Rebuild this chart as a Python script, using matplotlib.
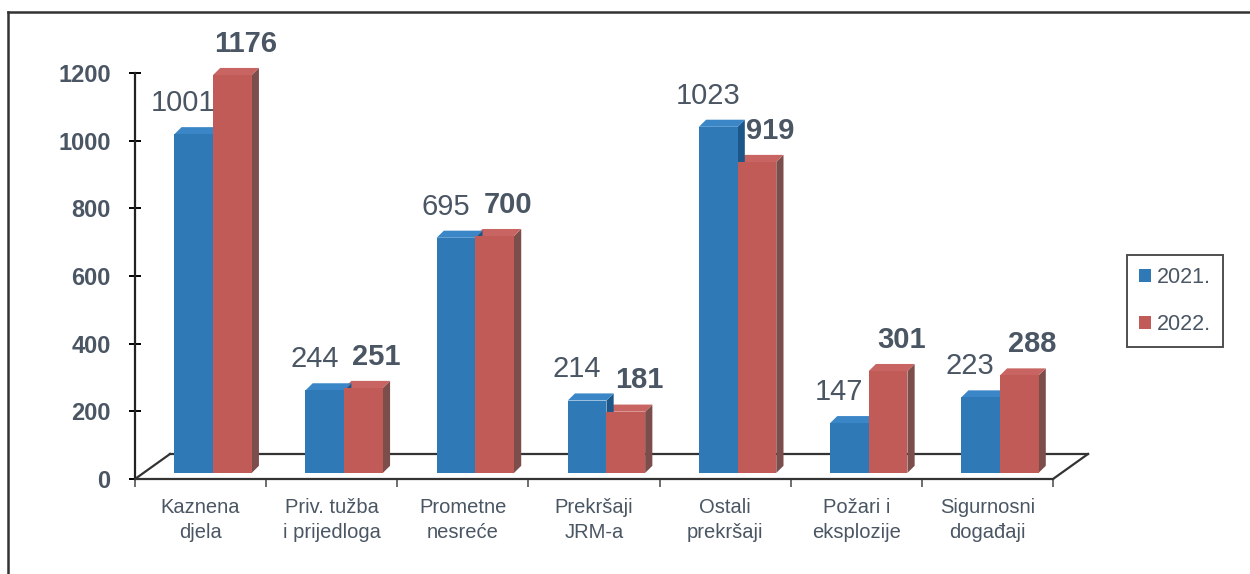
import numpy as np
import matplotlib.pyplot as plt
from matplotlib.patches import Polygon, Patch
from matplotlib.lines import Line2D

plt.rcParams['font.family'] = ['Liberation Sans', 'DejaVu Sans']

categories = ['Kaznena\ndjela', 'Priv. tužba\ni prijedloga', 'Prometne\nnesreće',
              'Prekršaji\nJRM-a', 'Ostali\nprekršaji', 'Požari i\neksplozije',
              'Sigurnosni\ndogađaji']
values_2021 = [1001, 244, 695, 214, 1023, 147, 223]
values_2022 = [1176, 251, 700, 181, 919, 301, 288]
series_labels = ['2021.', '2022.']

text_col = '#4a5663'
blue = '#2e79b6'
blue_side = '#1d5688'
blue_top = '#3a86c6'
red = '#c05b58'
red_side = '#7b4e4c'
red_top = '#c86462'

fig = plt.figure(figsize=(12.5, 5.74), dpi=100)
ax = fig.add_axes([0.108, 0.1655, 0.7344, 0.7073])
ax.set_xlim(0, 7)
ax.set_ylim(0, 1200)

# 3d-ish geometry (data units)
bw = 0.295          # bar width
x_start = 0.30      # offset of blue bar in category
base = 18           # bar bottom above front floor line
ddx, ddy = 0.055, 21    # bar depth
fdx, fdy = 0.267, 74    # floor depth

# floor outline
floor_kw = dict(color='#333333', lw=1.6, clip_on=False, zorder=1)
ax.plot([0, fdx], [0, fdy], **floor_kw)
ax.plot([fdx, 7 + fdx], [fdy, fdy], **floor_kw)
ax.plot([7 + fdx, 7], [fdy, 0], **floor_kw)


def bar3d(x0, v, front, side, top):
    x1 = x0 + bw
    y0, y1 = base, base + v
    ax.add_patch(Polygon([(x0, y0), (x1, y0), (x1, y1), (x0, y1)], closed=True,
                         facecolor=front, edgecolor='none', clip_on=False, zorder=3))
    ax.add_patch(Polygon([(x1, y0), (x1 + ddx, y0 + ddy), (x1 + ddx, y1 + ddy), (x1, y1)],
                         closed=True, facecolor=side, edgecolor='none', clip_on=False, zorder=2))
    ax.add_patch(Polygon([(x0, y1), (x0 + ddx, y1 + ddy), (x1 + ddx, y1 + ddy), (x1, y1)],
                         closed=True, facecolor=top, edgecolor='none', clip_on=False, zorder=2))


for i in range(len(categories)):
    xb = i + x_start
    xr = xb + bw
    bar3d(xr, values_2022[i], red, red_side, red_top)
    bar3d(xb, values_2021[i], blue, blue_side, blue_top)
    ax.text(xb + bw / 2 - 0.08, base + values_2021[i] + ddy + 30, str(values_2021[i]),
            ha='center', va='bottom', fontsize=21, color=text_col, zorder=5)
    ax.text(xr + bw / 2 + 0.1, base + values_2022[i] + ddy + 30, str(values_2022[i]),
            ha='center', va='bottom', fontsize=21, fontweight='bold', color=text_col, zorder=5)

for s in ['top', 'right']:
    ax.spines[s].set_visible(False)
ax.spines['left'].set_color('#222222')
ax.spines['left'].set_linewidth(1.6)
ax.spines['bottom'].set_color('#333333')
ax.spines['bottom'].set_linewidth(1.6)

ax.set_yticks(np.arange(0, 1201, 200))
ax.tick_params(axis='y', direction='inout', length=9, width=1.4, pad=13,
               labelsize=17, labelcolor=text_col)
for lbl in ax.get_yticklabels():
    lbl.set_fontweight('bold')

ax.set_xticks(np.arange(8))
ax.set_xticklabels([])
ax.tick_params(axis='x', which='major', direction='out', length=6, width=1.2, color='#555555')
ax.set_xticks(np.arange(7) + 0.5, minor=True)
ax.set_xticklabels(categories, minor=True, fontsize=14.5, color=text_col, linespacing=1.35)
ax.tick_params(axis='x', which='minor', length=0, pad=14)

handles = [Patch(facecolor=blue, edgecolor='none'), Patch(facecolor=red, edgecolor='none')]
leg = fig.legend(handles, series_labels, loc='upper left', bbox_to_anchor=(1127 / 1250, 1 - 255 / 574),
                 borderaxespad=0, fontsize=15.5, frameon=True, fancybox=False,
                 handlelength=0.55, handleheight=0.55, handletextpad=0.3,
                 borderpad=0.55, labelspacing=1.2)
leg.get_frame().set_edgecolor('#222222')
leg.get_frame().set_linewidth(1.4)
for t in leg.get_texts():
    t.set_color(text_col)

# outer frame (top and left edge visible)
fig.add_artist(Line2D([8 / 1250, 1.0], [1 - 12 / 574, 1 - 12 / 574], color='#333333', lw=1.8))
fig.add_artist(Line2D([8 / 1250, 8 / 1250], [0.0, 1 - 12 / 574], color='#333333', lw=1.8))

fig.savefig('out.png', dpi=100)
